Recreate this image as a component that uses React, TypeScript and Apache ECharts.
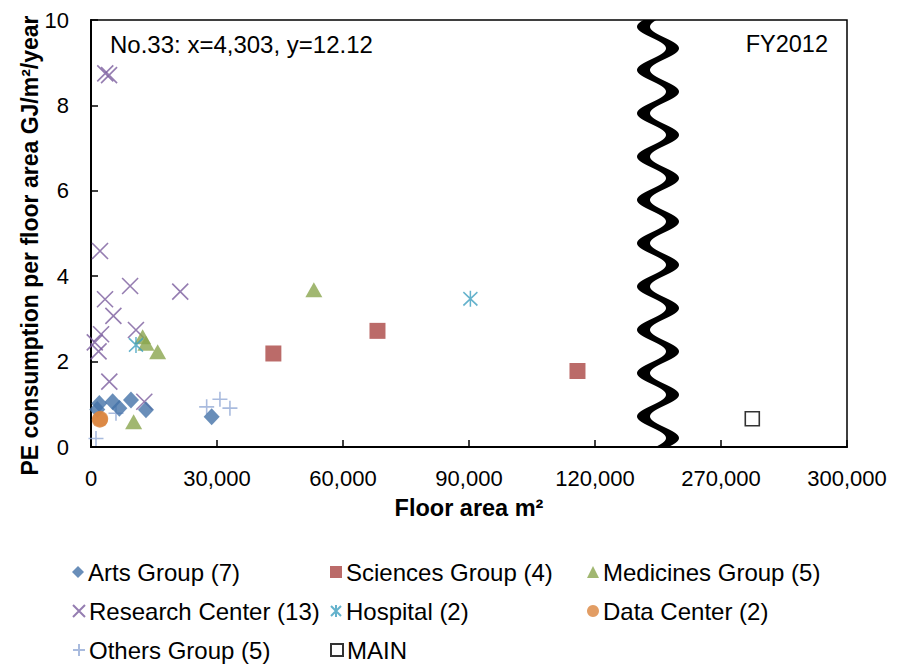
import React, { useEffect, useRef } from "react";
import * as echarts from "echarts";

// ---- data (floor area m², PE consumption GJ/m²/year) ----
const artsX = [1976, 1500, 5160, 6750, 9520, 13090, 28730];
const artsY = [1.02, 0.88, 1.06, 0.91, 1.1, 0.87, 0.71];

const sciencesX = [43420, 68210, 115830];
const sciencesY = [2.19, 2.72, 1.78];

const medicinesX = [12290, 13090, 15870, 10150, 53060];
const medicinesY = [2.58, 2.43, 2.23, 0.59, 3.68];

const researchX = [3400, 4300, 2149, 9310, 21247, 3342, 5332, 2400, 10700, 900, 1800, 4360, 12690];
const researchY = [8.75, 8.71, 4.59, 3.77, 3.64, 3.46, 3.07, 2.64, 2.74, 2.45, 2.24, 1.53, 1.06];

const hospitalX = [10710, 90330];
const hospitalY = [2.39, 3.47];

const dataCenterX = [2100, 2200];
const dataCenterY = [0.64, 0.66];

const othersX = [1190, 5950, 27540, 30700, 33080];
const othersY = [0.2, 0.79, 0.94, 1.12, 0.91];

const mainX = [277450];
const mainY = [0.66];

const xTickValues = [0, 30000, 60000, 90000, 120000, 270000, 300000];
const yTickValues = [0, 2, 4, 6, 8, 10];

// legend layout: [name, column, row]
const legendNames = [
  "Arts Group (7)",
  "Sciences Group (4)",
  "Medicines Group (5)",
  "Research Center (13)",
  "Hospital (2)",
  "Data Center (2)",
  "Others Group (5)",
  "MAIN",
];

// axis break: originals between BREAK_START and BREAK_END are cut out
const BREAK_START = 135000;
const BREAK_END = 255000;
const GAP = BREAK_END - BREAK_START; // 120000

const mapX = (x: number) => (x >= BREAK_END ? x - GAP : x);
const unmapX = (v: number) => (v > BREAK_START ? v + GAP : v);

const pairs = (xs: number[], ys: number[]) => xs.map((x, i) => [mapX(x), ys[i]]);

const FONT = "'Liberation Sans', Arial, sans-serif";

const X_PATH = "path://M0,0 L10,10 M10,0 L0,10";
const PLUS_PATH = "path://M5,0 L5,10 M0,5 L10,5";
const STAR_PATH = "path://M0,1 L10,11 M10,1 L0,11 M5,0 L5,12";

export default function App() {
  const ref = useRef<HTMLDivElement>(null);

  useEffect(() => {
    if (!ref.current) return;
    const chart = echarts.init(ref.current, undefined, { renderer: "svg" });

    const strokeStyle = (c: string, w = 1.6) => ({
      color: "rgba(0,0,0,0)",
      borderColor: c,
      borderWidth: w,
    });

    const colLeft = [72, 330, 587];
    const rowTop = [560, 599, 638];
    const legends = legendNames.map((name, i) => ({
      orient: "horizontal",
      left: colLeft[i % 3],
      top: rowTop[Math.floor(i / 3)],
      padding: 0,
      itemWidth: 12,
      itemHeight: 12,
      selectedMode: false,
      textStyle: { fontSize: 24, color: "#000", fontFamily: FONT, padding: [0, 0, 0, -1] },
      data: [name],
    }));

    const option: any = {
      animation: false,
      backgroundColor: "#fff",
      textStyle: { fontFamily: FONT },
      grid: {
        left: 91,
        top: 20,
        width: 756,
        height: 427,
        show: true,
        borderColor: "#000",
        borderWidth: 1.5,
        backgroundColor: "transparent",
      },
      xAxis: {
        type: "value",
        min: 0,
        max: mapX(xTickValues[xTickValues.length - 1]),
        interval: 30000,
        name: "Floor area m²",
        nameLocation: "middle",
        nameGap: 49,
        nameTextStyle: { fontSize: 23.5, fontWeight: "bold", color: "#000", fontFamily: FONT },
        axisLine: { show: true, onZero: false, lineStyle: { color: "#000", width: 2 } },
        axisTick: { show: true, inside: true, length: 7, lineStyle: { color: "#000", width: 1.5 } },
        splitLine: { show: false },
        axisLabel: {
          margin: 20,
          fontSize: 22,
          color: "#000",
          fontFamily: FONT,
          formatter: (v: number) => {
            const orig = unmapX(v);
            return xTickValues.includes(orig) ? orig.toLocaleString("en-US") : "";
          },
        },
      },
      yAxis: {
        type: "value",
        min: yTickValues[0],
        max: yTickValues[yTickValues.length - 1],
        interval: 2,
        axisLine: { show: true, onZero: false, lineStyle: { color: "#000", width: 2 } },
        axisTick: { show: true, inside: true, length: 7, lineStyle: { color: "#000", width: 1.5 } },
        splitLine: { show: false },
        axisLabel: { margin: 22, fontSize: 22, color: "#000", fontFamily: FONT },
      },
      legend: legends,
      series: [
        {
          name: "Research Center (13)",
          type: "scatter",
          symbol: X_PATH,
          symbolSize: 16,
          itemStyle: strokeStyle("#7A5C9E", 1.6),
          data: pairs(researchX, researchY),
        },
        {
          name: "Others Group (5)",
          type: "scatter",
          symbol: PLUS_PATH,
          symbolSize: 15,
          itemStyle: strokeStyle("#93AAD6", 1.6),
          data: pairs(othersX, othersY),
        },
        {
          name: "Arts Group (7)",
          type: "scatter",
          symbol: "diamond",
          symbolSize: [16, 17],
          itemStyle: { color: "#4472A8" },
          data: pairs(artsX, artsY),
        },
        {
          name: "Sciences Group (4)",
          type: "scatter",
          symbol: "rect",
          symbolSize: 16,
          itemStyle: { color: "#AA4643" },
          data: pairs(sciencesX, sciencesY),
        },
        {
          name: "Medicines Group (5)",
          type: "scatter",
          symbol: "triangle",
          symbolSize: [17, 15],
          itemStyle: { color: "#89A54E" },
          data: pairs(medicinesX, medicinesY),
        },
        {
          name: "Hospital (2)",
          type: "scatter",
          symbol: STAR_PATH,
          symbolSize: [14, 16],
          itemStyle: strokeStyle("#3D9FBF", 1.6),
          data: pairs(hospitalX, hospitalY),
        },
        {
          name: "Data Center (2)",
          type: "scatter",
          symbol: "circle",
          symbolSize: 16,
          itemStyle: { color: "#DB843D" },
          data: pairs(dataCenterX, dataCenterY),
        },
        {
          name: "MAIN",
          type: "scatter",
          symbol: "rect",
          symbolSize: 14,
          itemStyle: { color: "#fff", borderColor: "#000", borderWidth: 1.6 },
          data: pairs(mainX, mainY),
        },
      ],
    };

    chart.setOption(option);

    // axis-break wave, positioned from the axis scale
    const cx = chart.convertToPixel({ xAxisIndex: 0 }, BREAK_START) as number;
    const yTop = chart.convertToPixel({ yAxisIndex: 0 }, yTickValues[yTickValues.length - 1]) as number;
    const yBot = chart.convertToPixel({ yAxisIndex: 0 }, yTickValues[0]) as number;
    const A = 14.5;
    const W = 13;
    const P = 43.3;
    const phase = 6.7;
    const left: number[][] = [];
    const right: number[][] = [];
    for (let y = yTop; y <= yBot + 0.01; y += 1) {
      const x = cx - A * Math.cos((2 * Math.PI * (y - yTop - phase)) / P);
      left.push([x - W / 2, y]);
      right.push([x + W / 2, y]);
    }
    const poly = left.concat(right.reverse());

    chart.setOption({
      graphic: [
        {
          type: "polygon",
          shape: { points: poly },
          style: { fill: "#000" },
          z: 100,
          silent: true,
        },
        {
          type: "text",
          x: 30,
          y: (yTop + yBot) / 2 + 12,
          rotation: Math.PI / 2,
          style: {
            text: "PE consumption per floor area GJ/m²/year",
            fontSize: 23,
            fontWeight: "bold",
            fontFamily: FONT,
            fill: "#000",
            align: "center",
            verticalAlign: "middle",
          },
          z: 100,
        },
        {
          type: "text",
          x: 110,
          y: 44,
          style: {
            text: "No.33: x=4,303, y=12.12",
            fontSize: 24,
            fontFamily: FONT,
            fill: "#000",
            verticalAlign: "middle",
          },
          z: 100,
        },
        {
          type: "text",
          x: 828,
          y: 44,
          style: {
            text: "FY2012",
            fontSize: 23.5,
            fontFamily: FONT,
            fill: "#000",
            align: "right",
            verticalAlign: "middle",
          },
          z: 100,
        },
      ],
    });

    return () => chart.dispose();
  }, []);

  return (
    <div
      ref={ref}
      style={{ position: "fixed", left: 0, top: 0, width: 902, height: 664, background: "#fff" }}
    />
  );
}
